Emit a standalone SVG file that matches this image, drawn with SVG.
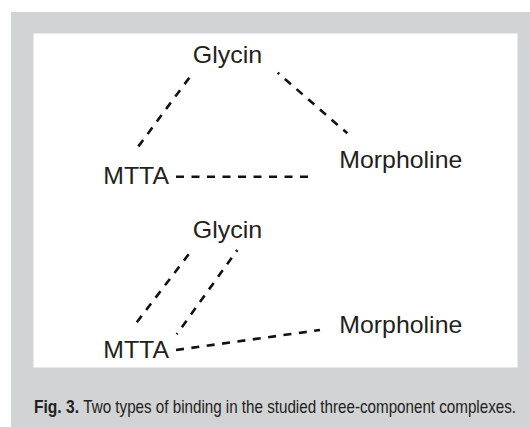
<svg xmlns="http://www.w3.org/2000/svg" width="530" height="427" viewBox="0 0 530 427">
<style>
.lbl{font-family:"Liberation Sans",Arial,sans-serif;font-size:24.5px;fill:#231f20}
.cap{font-family:"Liberation Sans",Arial,sans-serif;font-size:18px;fill:#231f20}
.bond{stroke:#111;stroke-width:2.6;fill:none;stroke-dasharray:8 7.5}
</style>
<rect x="0" y="0" width="530" height="427" fill="#ffffff"/>
<rect x="11" y="12" width="519" height="415" fill="#d1d3d4"/>
<rect x="33.5" y="33.5" width="484" height="334" fill="#ffffff"/>
<g id="connectors">
<line class="bond" x1="189.3" y1="77.7" x2="135.7" y2="150"/>
<line class="bond" x1="277.7" y1="72.7" x2="347.3" y2="133.3" stroke-dashoffset="6"/>
<line class="bond" x1="176" y1="176.7" x2="312" y2="176.7"/>
<line class="bond" x1="188.7" y1="254.3" x2="136" y2="323.3"/>
<line class="bond" x1="237.3" y1="250" x2="176.7" y2="334.3" stroke-dashoffset="6"/>
<line class="bond" x1="176" y1="350" x2="320" y2="330"/>
</g>
<g id="glycin1"><text class="lbl" x="192.7" y="63.3" textLength="69.5" lengthAdjust="spacingAndGlyphs">Glycin</text></g>
<g id="mtta1"><text class="lbl" x="103.3" y="184" textLength="65.7" lengthAdjust="spacingAndGlyphs">MTTA</text></g>
<g id="morpholine1"><text class="lbl" x="339.3" y="168.3" textLength="123" lengthAdjust="spacingAndGlyphs">Morpholine</text></g>
<g id="glycin2"><text class="lbl" x="192.7" y="237.7" textLength="69.5" lengthAdjust="spacingAndGlyphs">Glycin</text></g>
<g id="mtta2"><text class="lbl" x="103.3" y="358.4" textLength="65.7" lengthAdjust="spacingAndGlyphs">MTTA</text></g>
<g id="morpholine2"><text class="lbl" x="339.3" y="333.3" textLength="123" lengthAdjust="spacingAndGlyphs">Morpholine</text></g>
<g id="caption">
<text class="cap" transform="translate(34 413.3) scale(0.81 1)" font-weight="bold" textLength="55.6" lengthAdjust="spacingAndGlyphs">Fig. 3.</text>
<text class="cap" transform="translate(83.3 413.3) scale(0.81 1)" textLength="534.2" lengthAdjust="spacingAndGlyphs">Two types of binding in the studied three-component complexes.</text>
</g>
</svg>
